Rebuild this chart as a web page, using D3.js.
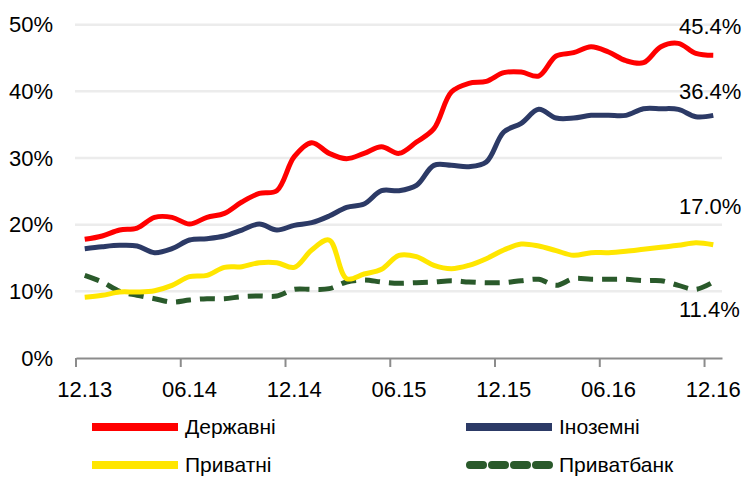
<!DOCTYPE html>
<html>
<head>
<meta charset="utf-8" />
<title>Частка депозитів</title>
<style>
html, body {
  margin: 0;
  padding: 0;
  background-color: #FFFFFF;
}
svg text {
  font-family: "Liberation Sans", Arial, sans-serif;
  fill: #000;
}
</style>
<script src="https://d3js.org/d3.v7.min.js"></script>
</head>
<body>
<script>

// місяці 12.13 - 12.16
var months = ["12.13","01.14","02.14","03.14","04.14","05.14","06.14","07.14","08.14","09.14","10.14","11.14",
  "12.14","01.15","02.15","03.15","04.15","05.15","06.15","07.15","08.15","09.15","10.15","11.15",
  "12.15","01.16","02.16","03.16","04.16","05.16","06.16","07.16","08.16","09.16","10.16","11.16","12.16"];
var shownMonths = ["12.13","06.14","12.14","06.15","12.15","06.16","12.16"];
var yTicks = [0, 10, 20, 30, 40, 50];

var derzhavni = [17.8,18.3,19.2,19.5,21.1,21.1,20.1,21.1,21.7,23.4,24.7,25.1,
  30.2,32.3,30.7,29.9,30.7,31.7,30.7,32.4,34.4,39.9,41.2,41.5,
  42.8,42.9,42.3,45.3,45.8,46.7,45.9,44.6,44.3,46.7,47.2,45.7,45.4];
var inozemni = [16.4,16.7,16.9,16.8,15.8,16.4,17.7,17.9,18.3,19.2,20.1,19.2,
  19.9,20.3,21.3,22.6,23.1,25.1,25.1,25.9,28.9,28.9,28.7,29.4,
  33.9,35.2,37.3,36.0,36.0,36.4,36.4,36.4,37.4,37.4,37.3,36.2,36.4];
var pryvatni = [9.1,9.4,9.9,9.9,10.1,10.9,12.2,12.4,13.6,13.7,14.3,14.3,
  13.6,16.2,17.7,11.9,12.6,13.3,15.4,15.2,13.9,13.4,13.9,14.9,
  16.2,17.1,16.8,16.1,15.4,15.8,15.8,16.0,16.3,16.6,16.9,17.3,17.0];
var pryvatbank = [12.4,11.4,10.0,9.4,8.9,8.4,8.7,8.9,8.9,9.2,9.3,9.3,
  10.3,10.3,10.4,11.4,11.7,11.4,11.2,11.3,11.4,11.6,11.4,11.3,
  11.3,11.6,11.8,10.9,11.9,11.8,11.8,11.8,11.6,11.6,10.9,10.3,11.4];

var names = ["Державні", "Іноземні", "Приватні", "Приватбанк"];
var colors = ["#ff0000", "#2c3a66", "#ffe600", "#2a5a2b"];
var lastLabels = ["45.4%", "36.4%", "17.0%", "11.4%"];
var series = [derzhavni, inozemni, pryvatni, pryvatbank];

var W = 744, H = 477;
var svg = d3.select("body").append("svg")
  .attr("width", W)
  .attr("height", H);

var x = d3.scaleBand().domain(months).range([76, 722]);
var y = d3.scaleLinear().domain([0, 50]).range([358, 24.7]);

// сітка
svg.append("g").selectAll("line")
  .data(yTicks.filter(function(d){ return d > 0; }))
  .enter().append("line")
  .attr("x1", 75).attr("x2", 722)
  .attr("y1", function(d){ return y(d); })
  .attr("y2", function(d){ return y(d); })
  .attr("stroke", "#ececec")
  .attr("stroke-width", 2.5);

// підписи осі Y
svg.append("g").selectAll("text")
  .data(yTicks)
  .enter().append("text")
  .attr("x", 53)
  .attr("y", function(d){ return y(d) + 7.5; })
  .attr("text-anchor", "end")
  .style("font-size", "22px")
  .text(function(d){ return d + "%"; });

// вісь X
var xAxis = d3.axisBottom(x)
  .tickValues(shownMonths)
  .tickSizeInner(9)
  .tickSizeOuter(0)
  .tickPadding(14);
var gx = svg.append("g")
  .attr("transform", "translate(0,358)")
  .call(xAxis);
gx.select(".domain").attr("stroke", "#8c8c8c").attr("stroke-width", 2);
gx.selectAll(".tick line")
  .attr("x1", -x.bandwidth() / 2).attr("x2", -x.bandwidth() / 2)
  .attr("stroke", "#8c8c8c").attr("stroke-width", 2);
gx.selectAll(".tick text")
  .attr("font-family", null)
  .style("font-size", "22px")
  .attr("fill", "#000");

// лінії
var line = d3.line()
  .x(function(d, i){ return x(months[i]) + x.bandwidth() / 2; })
  .y(function(d){ return y(d); })
  .curve(d3.curveCatmullRom.alpha(0.5));

var drawOrder = [3, 2, 1, 0];
drawOrder.forEach(function(k){
  var p = svg.append("path")
    .datum(series[k])
    .attr("d", line)
    .attr("fill", "none")
    .attr("stroke", colors[k])
    .attr("stroke-width", 5)
    .attr("stroke-linejoin", "round");
  if (k == 3) {
    p.attr("stroke-dasharray", "15,9");
  }
});

// підписи останніх значень
var labelY = [34, 99, 214, 317];
svg.append("g").selectAll("text")
  .data(lastLabels)
  .enter().append("text")
  .attr("x", 679)
  .attr("y", function(d, i){ return labelY[i]; })
  .style("font-size", "22px")
  .text(function(d){ return d; });

// легенда
var legX = [92, 466, 92, 466];
var legY = [427, 427, 465, 465];
var leg = svg.append("g").selectAll("g")
  .data(names)
  .enter().append("g");
leg.append("line")
  .attr("x1", function(d, i){ return legX[i] + (i == 3 ? 4 : 0); })
  .attr("x2", function(d, i){ return legX[i] + 86; })
  .attr("y1", function(d, i){ return legY[i]; })
  .attr("y2", function(d, i){ return legY[i]; })
  .attr("stroke", function(d, i){ return colors[i]; })
  .attr("stroke-width", 8)
  .attr("stroke-linecap", function(d, i){ return i == 3 ? "round" : "butt"; })
  .attr("stroke-dasharray", function(d, i){ return i == 3 ? "13,9" : null; });
leg.append("text")
  .attr("x", function(d, i){ return legX[i] + 93; })
  .attr("y", function(d, i){ return legY[i] + 7; })
  .style("font-size", "21px")
  .text(function(d){ return d; });

</script>
</body>
</html>
